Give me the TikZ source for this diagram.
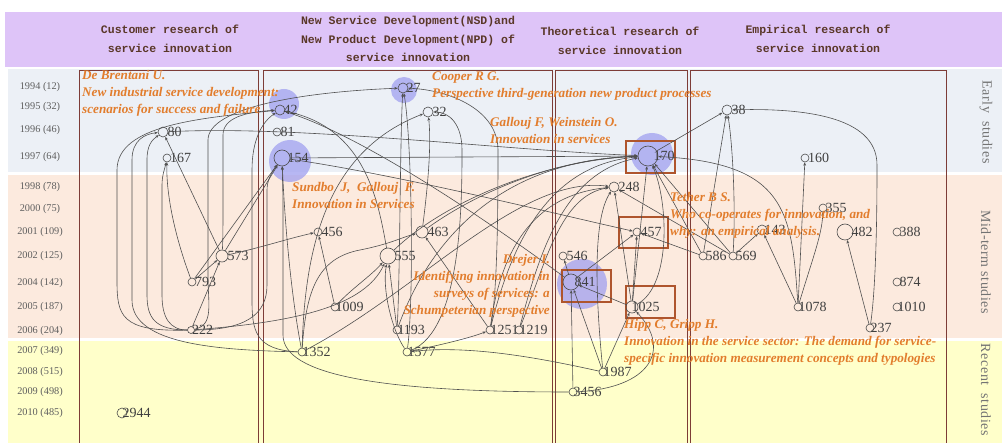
\documentclass[tikz,border=0pt]{standalone}
\usepackage{fontspec}
\setmainfont{Liberation Serif}
\newfontfamily\hdrfont{Liberation Mono}
\usetikzlibrary{arrows.meta}
\definecolor{hdrbg}{RGB}{222,196,248}
\definecolor{earlybg}{RGB}{236,240,246}
\definecolor{midbg}{RGB}{252,234,222}
\definecolor{recentbg}{RGB}{255,255,202}
\definecolor{hdrtxt}{RGB}{90,55,40}
\definecolor{colbox}{RGB}{125,60,55}
\definecolor{hlbox}{RGB}{175,85,45}
\definecolor{halo}{RGB}{160,160,240}
\definecolor{orng}{RGB}{226,125,45}
\definecolor{edgec}{RGB}{80,80,80}
\definecolor{yeartxt}{RGB}{95,95,95}
\newcommand\citenode[5]{\node[cnode=#4pt] (n#1) at (#2,#3) {};\node[num] (t#1) at ([xshift=#5pt]n#1.east) {#1};}
\begin{document}
\begin{tikzpicture}[x=1pt,y=-1pt,
 cnode/.style={circle,draw=black!70,line width=0.6pt,inner sep=0pt,minimum size=#1},
 num/.style={anchor=west,inner sep=0pt,font=\fontsize{14}{14}\selectfont,text=black!75},
 yr/.style={font=\fontsize{10.3}{11}\selectfont,text=yeartxt},
 hdr/.style={font=\hdrfont\bfseries\fontsize{11.5}{18.5}\selectfont,text=hdrtxt,align=center},
 refl/.style={font=\bfseries\itshape\fontsize{13.2}{17}\selectfont,text=orng,inner sep=0pt,align=left},
 cite/.style={draw=edgec,line width=0.6pt,-{Stealth[length=3.4pt,width=2.8pt]}},
 haloc/.style={fill=halo,opacity=0.75},
 hlb/.style={draw=hlbox,line width=1.6pt},
 colb/.style={draw=colbox,line width=0.8pt},
 side/.style={rotate=-90,font=\fontsize{14}{14}\selectfont\addfontfeature{LetterSpace=4},text=black!55}
]
\useasboundingbox (0,0) rectangle (1002,443);
\fill[white] (0,0) rectangle (1002,443);
\fill[hdrbg] (5,12) rectangle (1002,67);
\fill[earlybg] (8,69) rectangle (1002,172);
\fill[midbg] (8,175) rectangle (1002,338);
\fill[recentbg] (8,341) rectangle (1002,443);

% halos
\fill[haloc] (284,104) circle (15);
\fill[haloc] (404,90) circle (13);
\fill[haloc] (290,161) circle (21);
\fill[haloc] (652,154) circle (21);
\fill[haloc] (582,284) circle (25);

% column boxes
\draw[colb] (79,70) rectangle (258,443);
\draw[colb] (263,70) rectangle (552,443);
\draw[colb] (555,70) rectangle (687,443);
\draw[colb] (690,70) rectangle (946,443);

% highlight boxes
\draw[hlb] (626,141) rectangle (675,173);
\draw[hlb] (619,217) rectangle (668,248);
\draw[hlb] (562,270) rectangle (611,302);
\draw[hlb] (626,286) rectangle (675,318);

% headers
\node[hdr] (h1) at (170,39) {Customer research of\\service innovation};
\node[hdr] (h2) at (408,39) {New Service Development(NSD)and\\New Product Development(NPD) of\\service innovation};
\node[hdr] (h3) at (620,41) {Theoretical research of\\service innovation};
\node[hdr] (h4) at (818,39) {Empirical research of\\service innovation};

% years
\node[yr] (y94) at (40,87) {1994 (12)};
\node[yr] (y95) at (40,107) {1995 (32)};
\node[yr] (y96) at (40,130) {1996 (46)};
\node[yr] (y97) at (40,157) {1997 (64)};
\node[yr] (y98) at (40,187) {1998 (78)};
\node[yr] (y00) at (40,209) {2000 (75)};
\node[yr] (y01) at (40,232) {2001 (109)};
\node[yr] (y02) at (40,256) {2002 (125)};
\node[yr] (y04) at (40,283) {2004 (142)};
\node[yr] (y05) at (40,307) {2005 (187)};
\node[yr] (y06) at (40,331) {2006 (204)};
\node[yr] (y07) at (40,351) {2007 (349)};
\node[yr] (y08) at (40,372) {2008 (515)};
\node[yr] (y09) at (40,392) {2009 (498)};
\node[yr] (y10) at (40,413) {2010 (485)};

% side labels
\node[side] (s1) at (986,122) {Early\ \ studies};
\node[side] (s2) at (986,262) {Mid-term\ studies};
\node[side] (s3) at (986,390) {Recent\ \ studies};

% nodes
\citenode{80}{163}{132}{10}{-1}
\citenode{167}{167}{158}{8}{-1.5}
\citenode{573}{222}{256}{12}{-1}
\citenode{793}{192}{282}{8}{-1.5}
\citenode{222}{191}{330}{7}{-3}
\citenode{2944}{122}{413}{10}{-5}
\citenode{42}{280}{110}{10}{-2}
\citenode{27}{403}{88}{10}{-2}
\citenode{32}{428}{112}{10}{-1}
\citenode{81}{277}{132}{8}{-1}
\citenode{154}{282}{158}{16}{-3}
\citenode{456}{318}{232}{8}{-1}
\citenode{463}{422}{232}{12}{-1}
\citenode{555}{388}{256}{16}{-2}
\citenode{1009}{335}{307}{8}{-4}
\citenode{1193}{397}{330}{8}{-4}
\citenode{1251}{490}{330}{8}{-4}
\citenode{1219}{519}{330}{8}{-4}
\citenode{1352}{302}{352}{8}{-4}
\citenode{1577}{407}{352}{8}{-4}
\citenode{170}{648}{156}{20}{-5}
\citenode{248}{614}{187}{10}{-1}
\citenode{457}{637}{232}{8}{-1}
\citenode{546}{563}{256}{8}{-1}
\citenode{841}{571}{282}{16}{-5}
\citenode{1025}{632}{307}{12}{-7}
\citenode{1987}{603}{372}{8}{-4}
\citenode{3456}{573}{392}{8}{-4}
\citenode{38}{727}{110}{10}{-1}
\citenode{160}{805}{158}{8}{-1.5}
\citenode{355}{823}{208}{8}{-2}
\citenode{143}{762}{230}{10}{-3}
\citenode{482}{845}{232}{16}{-2}
\citenode{388}{897}{232}{8}{-2}
\citenode{586}{703}{256}{8}{-2}
\citenode{569}{733}{256}{8}{-2}
\citenode{874}{897}{282}{8}{-2}
\citenode{1078}{798}{307}{8}{-4}
\citenode{1010}{897}{307}{8}{-4}
\citenode{237}{870}{328}{8}{-4}

% column 1 edges
\draw[cite] (n793) -- (n573);
\draw[cite] (n793) .. controls (178,245) and (166,200) .. (n167);
\draw[cite] (n793) -- (n154);
\draw[cite] (n573) -- (n80);
\draw[cite] (n573) -- (n154);
\draw[cite] (n573) .. controls (260,248) and (290,238) .. (n456);
\draw[cite] (n222) -- (n573);
\draw[cite] (n222) .. controls (120,332) and (117,315) .. (117,280) -- (117,170) .. controls (117,125) and (200,118) .. (n42);
\draw[cite] (n1352) .. controls (220,350) and (132,345) .. (132,300) -- (132,160) .. controls (132,140) and (145,134) .. (n80);
\draw[cite] (n222) .. controls (155,330) and (147,318) .. (147,295) -- (147,160) .. controls (147,145) and (152,140) .. (n80);
\draw[cite] (n222) .. controls (170,330) and (162,318) .. (162,295) -- (162,185) .. controls (162,175) and (165,168) .. (n167);
\draw[cite] (n222) .. controls (245,330) and (267,315) .. (267,285) -- (267,190) .. controls (267,180) and (272,172) .. (n154);
\draw[cite] (n222) .. controls (214,325) and (208,305) .. (208,275) -- (208,140) .. controls (208,108) and (300,92) .. (n27);
\draw[cite] (n573) .. controls (223,240) and (223,220) .. (223,200) -- (223,135) .. controls (223,118) and (245,112) .. (n42);
\draw[cite] (n80) .. controls (300,125) and (500,150) .. (n170);
\draw[cite] (n1352) .. controls (255,350) and (252,330) .. (252,300) -- (252,170) .. controls (252,140) and (262,122) .. (n42);

% column 2 edges
\draw[cite] (n1009) -- (n456);
\draw[cite] (n1009) .. controls (350,290) and (372,275) .. (n555);
\draw[cite] (n1193) -- (n555);
\draw[cite] (n1577) .. controls (392,330) and (382,290) .. (n555);
\draw[cite] (n1352) .. controls (306,290) and (318,258) .. (360,250) .. controls (390,244) and (400,238) .. (n463);
\draw[cite] (n555) .. controls (378,200) and (365,128) .. (n42);
\draw[cite] (n463) .. controls (426,200) and (432,150) .. (n32);
\draw[cite] (n1193) .. controls (400,280) and (400,140) .. (n27);
\draw[cite] (n1577) .. controls (414,300) and (412,140) .. (n27);
\draw[cite] (n1251) .. controls (498,290) and (498,190) .. (498,150) .. controls (498,110) and (450,90) .. (n27);
\draw[cite] (n1577) .. controls (462,330) and (462,200) .. (462,150) .. controls (462,125) and (450,112) .. (n32);
\draw[cite] (n1352) .. controls (305,240) and (330,150) .. (n32);
\draw[cite] (n1352) .. controls (292,300) and (285,230) .. (n154);
\draw[cite] (n841) .. controls (480,215) and (360,135) .. (n42);
\draw[cite] (n154) .. controls (400,175) and (560,215) .. (n457);
\draw[cite] (n154) -- (n170);
\draw[cite] (n1251) -- (n463);
\draw[cite] (n1577) .. controls (440,345) and (470,338) .. (n1251);
\draw[cite] (n222) .. controls (300,322) and (365,305) .. (n555);

% column 3 edges
\draw[cite] (n1025) -- (n841);
\draw[cite] (n1025) -- (n248);
\draw[cite] (n1025) -- (n170);
\draw[cite] (n1025) .. controls (672,285) and (668,200) .. (n170);
\draw[cite] (n1025) -- (n457);
\draw[cite] (n841) -- (n457);
\draw[cite] (n841) -- (n546);
\draw[cite] (n1987) -- (n841);
\draw[cite] (n3456) -- (n841);
\draw[cite] (n3456) .. controls (380,392) and (283,375) .. (283,335) -- (283,200) -- (n154);
\draw[cite] (n3456) .. controls (650,388) and (672,350) .. (n1025);
\draw[cite] (n1987) .. controls (540,358) and (470,345) .. (n1577);
\draw[cite] (n1987) .. controls (596,300) and (592,220) .. (n248);
\draw[cite] (n1987) -- (n1025);
\draw[cite] (n1251) .. controls (510,250) and (545,165) .. (n170);
\draw[cite] (n1219) .. controls (540,250) and (565,172) .. (n170);
\draw[cite] (n1193) .. controls (430,240) and (500,160) .. (n170);
\draw[cite] (n463) .. controls (480,190) and (560,158) .. (n170);
\draw[cite] (n555) .. controls (440,205) and (540,160) .. (n170);
\draw[cite] (n1219) .. controls (545,265) and (560,195) .. (n248);
\draw[cite] (n1251) .. controls (500,255) and (530,195) .. (n248);
\draw[cite] (n1352) .. controls (420,290) and (520,175) .. (n248);

% column 4 edges
\draw[cite] (n170) -- (n38);
\draw[cite] (n586) -- (n38);
\draw[cite] (n569) .. controls (736,200) and (732,140) .. (n38);
\draw[cite] (n237) .. controls (877,280) and (877,190) .. (877,165) .. controls (877,115) and (800,108) .. (n38);
\draw[cite] (n1078) -- (n160);
\draw[cite] (n1078) .. controls (812,260) and (822,235) .. (n355);
\draw[cite] (n1078) -- (n143);
\draw[cite] (n1078) .. controls (792,210) and (785,163) .. (n170);
\draw[cite] (n237) -- (n482);
\draw[cite] (n569) -- (n143);
\draw[cite] (n586) -- (n170);
\draw[cite] (n569) -- (n170);
\draw[cite] (n586) -- (n457);
\draw[cite] (n569) -- (n248);

% reference labels
\node[refl,anchor=north west] (r1) at (82,70) {De Brentani U.\\New industrial service development:\\scenarios for success and failure};
\node[refl,anchor=north west] (r2) at (432,72) {Cooper R G.\\Perspective third-generation new product processes};
\node[refl,anchor=north west] (r3) at (490,117) {Gallouj F, Weinstein O.\\Innovation in services};
\node[refl,anchor=north west] (r4) at (292,182) {Sundbo\ \ J,\ \ Gallouj\ \ F.\\Innovation in Services};
\node[refl,anchor=north west] (r5) at (670,192) {Tether B S.\\Who co-operates for innovation, and\\why: an empirical analysis.};
\node[refl,anchor=north east,align=right] (r6) at (550,254) {Drejer I.\\Identifying innovation in\\surveys of services: a\\Schumpeterian perspective};
\node[refl,anchor=north west] (r7) at (624,319) {Hipp C, Gripp H.\\Innovation in the service sector: The demand for service-\\specific innovation measurement concepts and typologies};
\end{tikzpicture}
\end{document}
